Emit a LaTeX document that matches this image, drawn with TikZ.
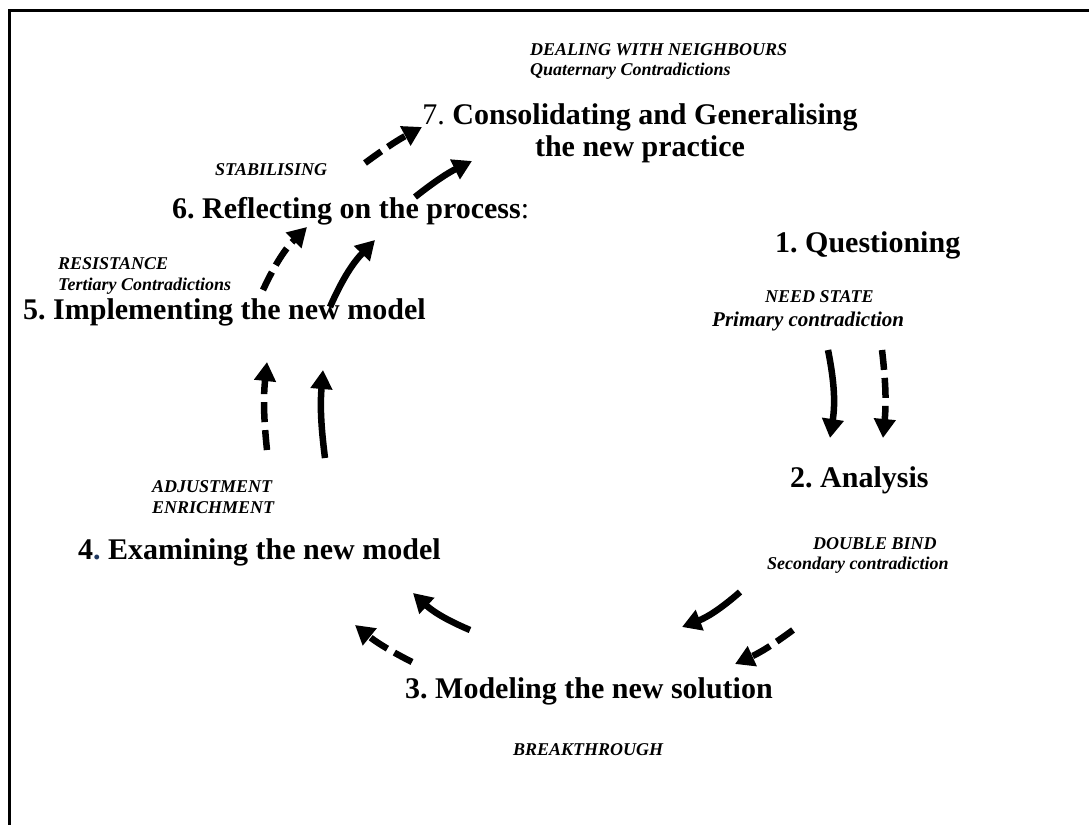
\documentclass[tikz,border=0pt]{standalone}
\usepackage{fontspec}
\setmainfont{Liberation Serif}
\usetikzlibrary{arrows.meta}
\definecolor{dotblue}{RGB}{31,56,96}
\frenchspacing
\begin{document}
\begin{tikzpicture}[x=1pt,y=1pt,
  title/.style={font=\bfseries\fontsize{30}{33}\selectfont, inner sep=0pt, anchor=base west},
  lab/.style={font=\bfseries\itshape\fontsize{18}{20}\selectfont, inner sep=0pt, anchor=base west},
  arr/.style={line width=6.5pt, -{Triangle[length=19pt,width=21pt]}, bend left=10},
  dsh/.style={arr, dash pattern=on 20pt off 8pt},
]
\useasboundingbox (0,0) rectangle (1089,-825);
\draw[line width=3pt] (1089,-10) -- (9.5,-10) -- (9.5,-825);

% labels
\node[lab] (neigh) at (530,-55) {DEALING WITH NEIGHBOURS};
\node[lab] (quat) at (530,-75) {Quaternary Contradictions};
\node[font=\bfseries\fontsize{30}{32}\selectfont, inner sep=0pt, align=center] (t7) at (640,-133)
  {{\mdseries 7.} Consolidating and Generalising\\the new practice};
\node[lab] (stab) at (215,-175) {STABILISING};
\node[title] (t6) at (172,-218) {6. Reflecting on the process{\mdseries :}};
\node[title] (t1) at (775,-252) {1. Questioning};
\node[lab] (resist) at (58,-269) {RESISTANCE};
\node[lab] (tert) at (58,-290) {Tertiary Contradictions};
\node[title] (t5) at (23,-319) {5. Implementing the new model};
\node[lab] (need) at (765,-302) {NEED STATE};
\node[lab, font=\bfseries\itshape\fontsize{21}{23}\selectfont] (prim) at (712,-326) {Primary contradiction};
\node[title] (t2) at (790,-487) {2. Analysis};
\node[lab] (adj) at (152,-492) {ADJUSTMENT};
\node[lab] (enr) at (152,-513) {ENRICHMENT};
\node[title] (t4) at (78,-559) {4{\color{dotblue}.} Examining the new model};
\node[lab] (dbl) at (813,-549) {DOUBLE BIND};
\node[lab] (sec) at (767,-569) {Secondary contradiction};
\node[title] (t3) at (405,-698) {3. Modeling the new solution};
\node[lab] (brk) at (513,-755) {BREAKTHROUGH};

% arrow end points
\coordinate (a67d) at (365,-163); \coordinate (b67d) at (422,-127);
\coordinate (a67s) at (415,-197); \coordinate (b67s) at (472,-161);
\coordinate (a56d) at (263,-290); \coordinate (b56d) at (307,-227);
\coordinate (a56s) at (330,-307); \coordinate (b56s) at (375,-240);
\coordinate (a45d) at (267,-450); \coordinate (b45d) at (267,-362);
\coordinate (a45s) at (325,-458); \coordinate (b45s) at (323,-370);
\coordinate (a12s) at (828,-350); \coordinate (b12s) at (830,-438);
\coordinate (a12d) at (882,-350); \coordinate (b12d) at (883,-438);
\coordinate (a23s) at (740,-592); \coordinate (b23s) at (682,-627);
\coordinate (a23d) at (793,-630); \coordinate (b23d) at (735,-664);
\coordinate (a34s) at (470,-630); \coordinate (b34s) at (413,-593);
\coordinate (a34d) at (412,-662); \coordinate (b34d) at (355,-625);

\draw[dsh, bend left=4] (a67d) to (b67d);
\draw[arr, bend left=6] (a67s) to (b67s);
\draw[dsh] (a56d) to (b56d);
\draw[arr] (a56s) to (b56s);
\draw[dsh, bend left=6] (a45d) to (b45d);
\draw[arr, bend left=6] (a45s) to (b45s);
\draw[arr] (a12s) to (b12s);
\draw[dsh, bend left=6] (a12d) to (b12d);
\draw[arr] (a23s) to (b23s);
\draw[dsh, bend left=6] (a23d) to (b23d);
\draw[arr] (a34s) to (b34s);
\draw[dsh, bend left=6] (a34d) to (b34d);
\end{tikzpicture}
\end{document}
